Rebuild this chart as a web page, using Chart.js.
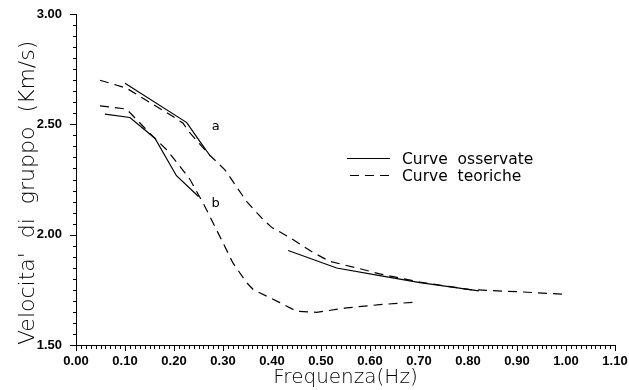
<!DOCTYPE html>
<html>
<head>
<meta charset="utf-8">
<script src="https://cdn.jsdelivr.net/npm/chart.js@4/dist/chart.umd.min.js"></script>
<style>
html,body{margin:0;padding:0;background:#fff;}
#wrap{width:629px;height:390px;position:relative;}
</style>
</head>
<body>
<div id="wrap"><canvas id="c" width="629" height="390"></canvas></div>
<script>
// ---- data ----
const xTitle = 'Frequenza(Hz)';
const yTitle = "Velocita'  di  gruppo  (Km/s)";
const seriesNames = ['Curve  osservate', 'Curve  teoriche'];

const obsA1X = [0.100, 0.226, 0.253, 0.273];
const obsA1Y = [2.686, 2.508, 2.422, 2.360];

const obsA2X = [0.433, 0.532, 0.620, 0.702, 0.804, 0.822];
const obsA2Y = [1.928, 1.849, 1.814, 1.783, 1.751, 1.745];

const obsBX = [0.059, 0.110, 0.161, 0.205, 0.250];
const obsBY = [2.546, 2.531, 2.437, 2.267, 2.173];

const teoAX = [0.049, 0.103, 0.198, 0.218, 0.233, 0.273, 0.304, 0.348, 0.382, 0.400, 0.437, 0.484, 0.518, 0.586, 0.620, 0.702, 0.804, 0.906, 1.004];
const teoAY = [2.700, 2.664, 2.535, 2.506, 2.460, 2.360, 2.294, 2.151, 2.068, 2.032, 1.986, 1.919, 1.879, 1.842, 1.822, 1.785, 1.751, 1.741, 1.729];

const teoBX = [0.049, 0.103, 0.157, 0.185, 0.212, 0.233, 0.263, 0.294, 0.320, 0.348, 0.362, 0.416, 0.450, 0.491, 0.552, 0.620, 0.698];
const teoBY = [2.584, 2.569, 2.445, 2.385, 2.310, 2.249, 2.128, 1.990, 1.873, 1.783, 1.751, 1.692, 1.653, 1.648, 1.668, 1.683, 1.695];

const curveLabels = ['a', 'b'];
const curveLabelX = [0.285, 0.285];
const curveLabelY = [2.489, 2.140];

const xMin = 0.00, xMax = 1.10, xMajor = 0.10, xMinor = 0.01;
const yMin = 1.50, yMax = 3.00, yMajor = 0.50, yMinor = 0.05;

// ---- build ----
const pts = (xs, ys) => xs.map((x, i) => ({x: x, y: ys[i]}));
const DASH = [9, 6];
const solid = (label, xs, ys) => ({label, data: pts(xs, ys), borderColor: '#000', borderWidth: 1.2, pointRadius: 0, showLine: true, tension: 0, fill: false});
const dashed = (label, xs, ys) => Object.assign(solid(label, xs, ys), {borderDash: DASH});

const datasets = [
  solid(seriesNames[0], obsA1X, obsA1Y),
  solid(seriesNames[0], obsA2X, obsA2Y),
  solid(seriesNames[0], obsBX, obsBY),
  dashed(seriesNames[1], teoAX, teoAY),
  dashed(seriesNames[1], teoBX, teoBY)
];

const TICK_FONT = {family: "'Liberation Sans', Arial, sans-serif", size: 13, weight: 'bold'};
const TITLE_FAMILY = "'DejaVu Sans', sans-serif";

const axisMarks = {
  id: 'axisMarks',
  afterDraw(chart) {
    const ctx = chart.ctx;
    const xs = chart.scales.x, ys = chart.scales.y;
    const left = xs.left, bottom = ys.bottom;
    ctx.save();
    ctx.setLineDash([]);
    ctx.globalAlpha = 1;
    ctx.fillStyle = '#000000';
    const xStep = Math.round(xMajor / xMinor);
    const nx = Math.round((xMax - xMin) / xMinor);
    for (let i = 0; i <= nx; i++) {
      const px = Math.round(xs.getPixelForValue(xMin + i * xMinor));
      const len = (i % xStep === 0) ? 6 : 4;
      ctx.fillRect(px, Math.round(bottom), 1, len);
    }
    const yStep = Math.round(yMajor / yMinor);
    const ny = Math.round((yMax - yMin) / yMinor);
    for (let i = 0; i <= ny; i++) {
      const py = Math.round(ys.getPixelForValue(yMin + i * yMinor));
      const len = (i % yStep === 0) ? 6 : 3;
      ctx.fillRect(Math.round(left) - len, py, len, 1);
    }

    // curve labels a / b
    ctx.font = "13px 'DejaVu Sans', sans-serif";
    ctx.textAlign = 'center';
    ctx.textBaseline = 'middle';
    curveLabels.forEach((t, i) => {
      ctx.fillText(t, xs.getPixelForValue(curveLabelX[i]), ys.getPixelForValue(curveLabelY[i]));
    });

    // legend
    const a = chart.chartArea;
    const lx = a.left + 271, ly = a.top + 144, rowH = 17;
    ctx.font = "15.5px 'DejaVu Sans', sans-serif";
    ctx.textAlign = 'left';
    ctx.strokeStyle = '#000000';
    [datasets[0], datasets[3]].forEach((ds, i) => {
      const y = Math.round(ly + i * rowH) + 0.5;
      ctx.beginPath();
      ctx.lineWidth = 1.2;
      ctx.setLineDash(ds.borderDash || []);
      ctx.moveTo(lx + (i ? 3 : 0), y);
      ctx.lineTo(lx + 43, y);
      ctx.stroke();
      ctx.setLineDash([]);
      ctx.fillText(ds.label, lx + 55, y + 1);
    });
    ctx.restore();
  }
};

new Chart(document.getElementById('c'), {
  type: 'scatter',
  data: {datasets},
  options: {
    responsive: false,
    animation: false,
    devicePixelRatio: 1,
    layout: {padding: {top: 14, right: 14, left: 0, bottom: 0}},
    plugins: {legend: {display: false}, tooltip: {enabled: false}},
    scales: {
      x: {
        type: 'linear', min: xMin, max: xMax,
        grid: {display: false, drawTicks: false},
        border: {display: true, color: '#000', width: 1},
        ticks: {stepSize: xMajor, color: '#000', font: TICK_FONT, padding: 9, maxRotation: 0, autoSkip: false,
          callback: v => Number(v).toFixed(2)},
        title: {display: true, text: xTitle, color: '#000', font: {family: TITLE_FAMILY, size: 20, weight: '200'}, padding: {top: 0, bottom: 0}},
        afterFit: s => { s.height = 45; s.paddingLeft = 0; s.paddingRight = 0; }
      },
      y: {
        type: 'linear', min: yMin, max: yMax,
        grid: {display: false, drawTicks: false},
        border: {display: true, color: '#000', width: 1},
        ticks: {stepSize: yMajor, color: '#000', font: TICK_FONT, padding: 14,
          callback: v => Number(v).toFixed(2)},
        title: {display: true, text: yTitle, align: 'start', color: '#000', font: {family: TITLE_FAMILY, size: 22, weight: '200'}, padding: {top: 15, bottom: 0}},
        afterFit: s => { s.width = 76; s.paddingTop = 0; s.paddingBottom = 0; }
      }
    }
  },
  plugins: [axisMarks]
});
</script>
</body>
</html>
